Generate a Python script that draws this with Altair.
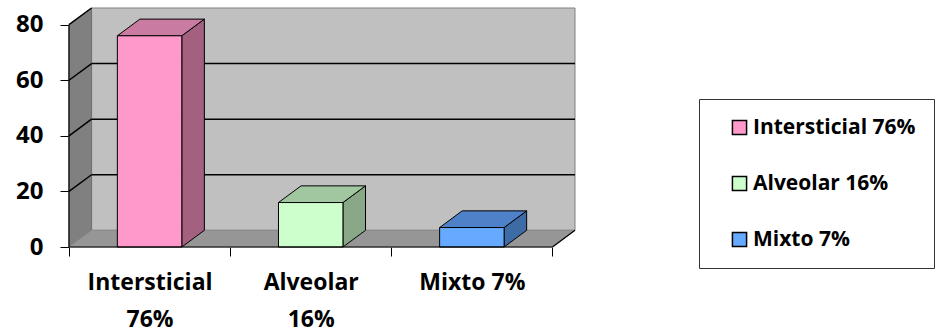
import altair as alt
import pandas as pd

# Chart values
categories = ["Intersticial 76%", "Alveolar 16%", "Mixto 7%"]
axis_lines = [["Intersticial", "76%"], ["Alveolar", "16%"], ["Mixto 7%"]]
values = [76, 16, 7]
y_ticks = [0, 20, 40, 60, 80]

# Face colours of each box (front, top, side)
front_colors = ["#FF99CC", "#CCFFCC", "#66AAFF"]
top_colors = ["#C97BA1", "#A0C7A0", "#4F81C8"]
side_colors = ["#A3617F", "#88A888", "#3D6BA6"]

# 3D depth (in category units / value units) and box placement in each slot
DX, DY = 0.14, 6.0
BAR_L, BAR_R = 0.30, 0.70
Y_MAX = 80
N = len(categories)
FONT = "Open Sans"

x_scale = alt.Scale(domain=[0, N + DX], nice=False, zero=False)
y_scale = alt.Scale(domain=[0, Y_MAX + DY], nice=False, zero=False)

# x axis: ticks on category boundaries, labels in the middle of each slot
x_vals = [i * 0.5 for i in range(2 * N + 1)]
label_expr = ""
for i, lines in enumerate(axis_lines):
    arr = "[" + ",".join("'" + s + "'" for s in lines) + "]"
    label_expr += f"datum.value == {i + 0.5} ? {arr} : "
label_expr += "''"

x_axis = alt.Axis(
    values=x_vals, labelExpr=label_expr, title=None, grid=False, domain=False,
    tickColor="black", tickSize=9, tickWidth=1,
    tickOpacity={"condition": {"test": "datum.value % 1 != 0", "value": 0}, "value": 1},
    labelFont=FONT, labelFontWeight="bold", labelFontSize=23, labelColor="black",
    labelLineHeight=37, labelPadding=15, labelBaseline="top",
    labelOverlap=False, labelFlush=False, labelBound=False,
)
y_axis = alt.Axis(
    values=y_ticks, title=None, grid=False, domain=False,
    tickColor="black", tickSize=9, tickWidth=1,
    labelFont=FONT, labelFontWeight="bold", labelFontSize=24, labelColor="black",
    labelPadding=17,
)


def X(field="x"):
    return alt.X(f"{field}:Q", scale=x_scale, axis=x_axis)


def Y(field="y"):
    return alt.Y(f"{field}:Q", scale=y_scale, axis=y_axis)


# Back wall
back = pd.DataFrame({"x": [DX], "x2": [N + DX], "y": [DY], "y2": [Y_MAX + DY]})
back_wall = alt.Chart(back).mark_rect(fill="#C0C0C0", stroke="#808080", strokeWidth=1).encode(
    x=X(), x2="x2:Q", y=Y(), y2="y2:Q"
)

# Left side wall
left = pd.DataFrame({"x": [0, DX], "y": [0, DY], "y2": [Y_MAX, Y_MAX + DY]})
left_wall = alt.Chart(left).mark_area(
    orient="vertical", fill="#808080", stroke="#707070", strokeWidth=1, opacity=1
).encode(x=X(), y=Y(), y2="y2:Q")

# Floor
floor_df = pd.DataFrame({"y": [0, DY], "x": [0, DX], "x2": [N, N + DX]})
floor = alt.Chart(floor_df).mark_area(
    orient="horizontal", fill="#969696", stroke="#8a8a8a", strokeWidth=1, opacity=1
).encode(y=Y(), x=X(), x2="x2:Q")

# Gridlines on back wall and left wall
grid_rows = []
for g in y_ticks[1:-1]:
    grid_rows.append({"x": DX, "x2": N + DX, "y": g + DY, "y2": g + DY})
for g in y_ticks[1:]:
    grid_rows.append({"x": 0, "x2": DX, "y": g, "y2": g + DY})
grid = alt.Chart(pd.DataFrame(grid_rows)).mark_rule(color="black", strokeWidth=1.5).encode(
    x=X(), x2="x2:Q", y=Y(), y2="y2:Q"
)

# Boxes
front_rows, top_rows, side_rows = [], [], []
for i, (c, v) in enumerate(zip(categories, values)):
    front_rows.append({"category": c, "x": i + BAR_L, "x2": i + BAR_R, "y": 0, "y2": v})
    top_rows += [
        {"category": c, "fill": top_colors[i], "y": v, "x": i + BAR_L, "x2": i + BAR_R},
        {"category": c, "fill": top_colors[i], "y": v + DY, "x": i + BAR_L + DX, "x2": i + BAR_R + DX},
    ]
    side_rows += [
        {"category": c, "fill": side_colors[i], "x": i + BAR_R, "y": 0, "y2": v},
        {"category": c, "fill": side_colors[i], "x": i + BAR_R + DX, "y": DY, "y2": v + DY},
    ]

sides = alt.Chart(pd.DataFrame(side_rows)).mark_area(
    orient="vertical", stroke="black", strokeWidth=1, opacity=1
).encode(x=X(), y=Y(), y2="y2:Q", fill=alt.Fill("fill:N", scale=None), detail="category:N")

tops = alt.Chart(pd.DataFrame(top_rows)).mark_area(
    orient="horizontal", stroke="black", strokeWidth=1, opacity=1
).encode(y=Y(), x=X(), x2="x2:Q", fill=alt.Fill("fill:N", scale=None), detail="category:N")

fronts = alt.Chart(pd.DataFrame(front_rows)).mark_rect(stroke="black", strokeWidth=1).encode(
    x=X(), x2="x2:Q", y=Y(), y2="y2:Q",
    fill=alt.Fill(
        "category:N",
        scale=alt.Scale(domain=categories, range=front_colors),
        legend=alt.Legend(
            orient="none", legendX=630, legendY=91, title=None,
            labelFont=FONT, labelFontWeight="bold", labelFontSize=21, labelColor="black",
            labelLimit=400,
            symbolType="square", symbolSize=200, symbolStrokeColor="black",
            symbolStrokeWidth=1.5, symbolOffset=12, labelOffset=3,
            rowPadding=34, padding=18, strokeColor="#333333", fillColor="white",
        ),
    ),
)

# Axis lines along the front edges and the floor's right edge
edges = pd.DataFrame([
    {"x": 0, "x2": 0, "y": 0, "y2": Y_MAX},
    {"x": 0, "x2": N, "y": 0, "y2": 0},
    {"x": N, "x2": N + DX, "y": 0, "y2": DY},
])
edge_rules = alt.Chart(edges).mark_rule(color="black", strokeWidth=1.2).encode(
    x=X(), x2="x2:Q", y=Y(), y2="y2:Q"
)

chart = alt.layer(back_wall, left_wall, floor, grid, sides, tops, fronts, edge_rules).properties(
    width=506, height=239,
    autosize=alt.AutoSizeParams(type="none"),
    padding={"left": 69, "top": 8, "right": 369, "bottom": 88},
    background="white",
).configure_view(stroke=None)

chart.save("out.html", embed_options={"renderer": "svg", "actions": False})
